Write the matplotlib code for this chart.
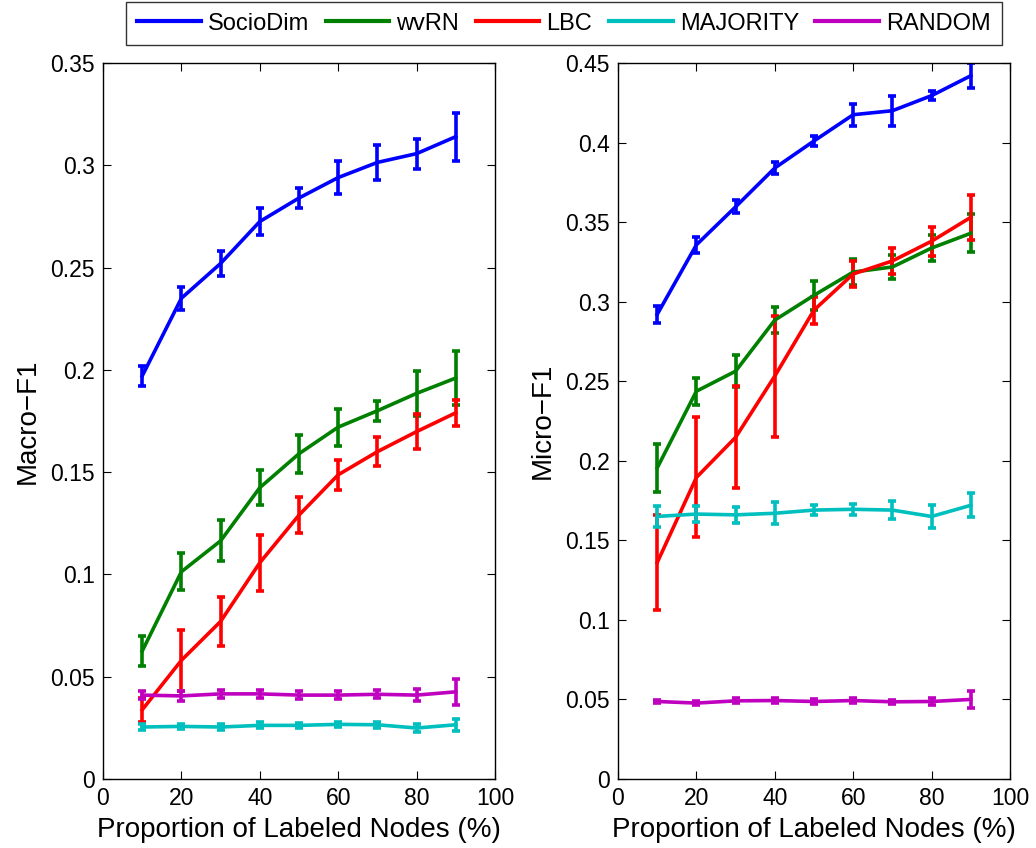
import matplotlib
matplotlib.use("Agg")
import matplotlib.pyplot as plt
from matplotlib.lines import Line2D
import numpy as np

plt.rcParams["font.family"] = ["Liberation Sans", "DejaVu Sans"]

proportion = [10, 20, 30, 40, 50, 60, 70, 80, 90]
methods = ["SocioDim", "wvRN", "LBC", "MAJORITY", "RANDOM"]
colors = ["#0000ff", "#008000", "#ff0000", "#00bfbf", "#bf00bf"]

# Macro-F1 (mean, error)
macro_sociodim = [0.197, 0.235, 0.252, 0.2725, 0.284, 0.294, 0.3014, 0.3057, 0.314]
macro_sociodim_err = [0.005, 0.0056, 0.006, 0.0066, 0.005, 0.008, 0.0085, 0.0073, 0.0117]
macro_wvrn = [0.0625, 0.1013, 0.1164, 0.1424, 0.159, 0.172, 0.180, 0.1885, 0.196]
macro_wvrn_err = [0.0075, 0.009, 0.01, 0.0085, 0.0093, 0.009, 0.005, 0.011, 0.013]
macro_lbc = [0.0338, 0.058, 0.077, 0.1057, 0.129, 0.1487, 0.160, 0.1698, 0.179]
macro_lbc_err = [0.006, 0.015, 0.012, 0.0137, 0.009, 0.0073, 0.007, 0.0085, 0.0065]
macro_majority = [0.0254, 0.0257, 0.0254, 0.0262, 0.0262, 0.0267, 0.0265, 0.0249, 0.0265]
macro_majority_err = [0.0015, 0.0012, 0.0015, 0.0015, 0.0012, 0.0012, 0.0015, 0.002, 0.003]
macro_random = [0.041, 0.0406, 0.0416, 0.0416, 0.041, 0.041, 0.0414, 0.041, 0.0426]
macro_random_err = [0.002, 0.0025, 0.002, 0.002, 0.002, 0.002, 0.002, 0.003, 0.0065]

# Micro-F1 (mean, error)
micro_sociodim = [0.292, 0.3357, 0.3596, 0.384, 0.401, 0.4175, 0.420, 0.4295, 0.442]
micro_sociodim_err = [0.0055, 0.005, 0.004, 0.004, 0.003, 0.007, 0.0095, 0.003, 0.0078]
micro_wvrn = [0.1955, 0.2437, 0.2563, 0.2884, 0.304, 0.3186, 0.3218, 0.3337, 0.343]
micro_wvrn_err = [0.015, 0.0085, 0.01, 0.008, 0.009, 0.008, 0.0075, 0.008, 0.012]
micro_lbc = [0.136, 0.1895, 0.2147, 0.2532, 0.2947, 0.3174, 0.3256, 0.338, 0.353]
micro_lbc_err = [0.03, 0.0377, 0.032, 0.038, 0.0085, 0.008, 0.008, 0.009, 0.014]
micro_majority = [0.165, 0.1665, 0.166, 0.167, 0.169, 0.1695, 0.169, 0.165, 0.172]
micro_majority_err = [0.0065, 0.005, 0.005, 0.007, 0.003, 0.0035, 0.0055, 0.0075, 0.0075]
micro_random = [0.0487, 0.0477, 0.0491, 0.0493, 0.0487, 0.0493, 0.0485, 0.0487, 0.050]
micro_random_err = [0.001, 0.0015, 0.0015, 0.0015, 0.0015, 0.0015, 0.0012, 0.002, 0.0055]

macro = [
    (macro_sociodim, macro_sociodim_err),
    (macro_wvrn, macro_wvrn_err),
    (macro_lbc, macro_lbc_err),
    (macro_majority, macro_majority_err),
    (macro_random, macro_random_err),
]
micro = [
    (micro_sociodim, micro_sociodim_err),
    (micro_wvrn, micro_wvrn_err),
    (micro_lbc, micro_lbc_err),
    (micro_majority, micro_majority_err),
    (micro_random, micro_random_err),
]


def draw_panel(ax, series, ylabel, ymax, ystep):
    for (vals, errs), color in zip(series, colors):
        ax.errorbar(
            proportion,
            vals,
            yerr=errs,
            color=color,
            linewidth=2.6,
            elinewidth=2.6,
            capsize=2.8,
            capthick=2.6,
        )
    ax.set_xlim(0, 100)
    ax.set_ylim(0, ymax)
    ax.set_xticks(np.arange(0, 101, 20))
    yt = np.round(np.arange(0, ymax + 1e-9, ystep), 2)
    ax.set_yticks(yt)
    ax.set_yticklabels(["0" if v == 0 else f"{v:g}" for v in yt])
    ax.tick_params(direction="in", top=True, right=True, length=6,
                   labelsize=16.5, width=0.8, pad=6)
    for s in ax.spines.values():
        s.set_linewidth(1.0)
    ax.set_xlabel("Proportion of Labeled Nodes (%)", fontsize=20, labelpad=5)
    ax.set_ylabel(ylabel, fontsize=20, labelpad=7)


fig = plt.figure(figsize=(10.36, 8.48), dpi=100)
ax1 = fig.add_axes([0.0994, 0.0814, 0.3784, 0.8443])
ax2 = fig.add_axes([0.5965, 0.0814, 0.3784, 0.8443])

draw_panel(ax1, macro, "Macro\u2212F1", 0.35, 0.05)
draw_panel(ax2, micro, "Micro\u2212F1", 0.45, 0.05)

handles = [Line2D([0], [0], color=c, linewidth=3.0) for c in colors]
leg = fig.legend(
    handles,
    methods,
    loc="upper center",
    bbox_to_anchor=(564 / 1036, 1 - 2 / 848),
    borderaxespad=0,
    ncol=5,
    fontsize=17,
    frameon=True,
    fancybox=False,
    edgecolor="black",
    handlelength=2.7,
    handletextpad=0.3,
    columnspacing=0.7,
    borderpad=0.45,
)
leg.get_frame().set_linewidth(1.0)

fig.savefig("out.png", dpi=100)
